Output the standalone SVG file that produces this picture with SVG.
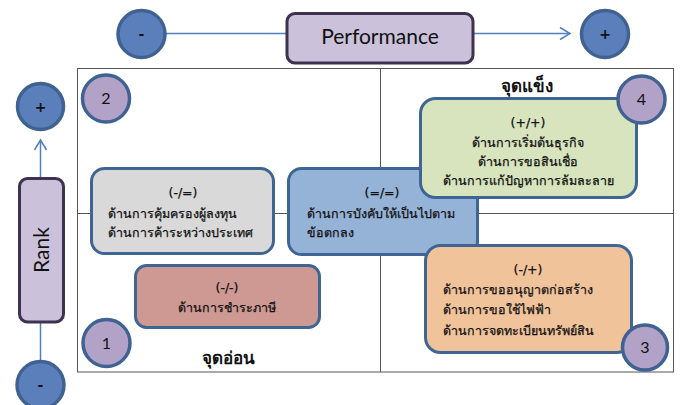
<svg xmlns="http://www.w3.org/2000/svg" width="680" height="405" viewBox="0 0 680 405">
<style>
.t{font-family:"Tahoma","DejaVu Sans","Liberation Sans",sans-serif;fill:#111;}
.lat{font-family:"Lato","Open Sans","Liberation Sans",sans-serif;fill:#111;}
.th{font-size:12.5px;stroke:#111;stroke-width:0.25px;}
.box{stroke:#3f6595;stroke-width:3;}
.axis{fill:#ccc1da;stroke:#3f3151;stroke-width:3;}
.bc{fill:#5a7fba;stroke:#3f6292;stroke-width:3.5;}
.pc{fill:#b3a2c7;stroke:#3f6292;stroke-width:3.5;}
.ln{stroke:#4f81bd;stroke-width:1.5;fill:none;}
.grid{stroke:#555;stroke-width:1;fill:none;}
</style>
<rect width="680" height="405" fill="#fff"/>
<g id="frame">
<rect class="grid" x="77.5" y="68.5" width="596" height="303.5"/>
<line class="grid" x1="380.5" y1="68.5" x2="380.5" y2="372"/>
<line class="grid" x1="77.5" y1="213.5" x2="673.5" y2="213.5"/>
</g>
<g id="connectors">
<line class="ln" x1="166" y1="33.5" x2="286" y2="33.5"/>
<line class="ln" x1="474" y1="33.5" x2="570" y2="33.5"/>
<polyline class="ln" points="560,27.5 570,33.5 560,39.5"/>
<line class="ln" x1="40.5" y1="178" x2="40.5" y2="140"/>
<polyline class="ln" points="34.5,150 40.5,140 46.5,150"/>
<line class="ln" x1="40.5" y1="322" x2="40.5" y2="361"/>
</g>
<g id="perf-minus"><circle class="bc" cx="141.5" cy="34" r="23.5"/><text class="t" x="141.5" y="39" font-size="14" font-weight="bold" text-anchor="middle">-</text></g>
<g id="performance"><rect class="axis" x="287" y="13.5" width="186" height="49.5" rx="8"/><text class="lat" x="380" y="44" font-size="21" text-anchor="middle">Performance</text></g>
<g id="perf-plus"><circle class="bc" cx="605" cy="34" r="23.5"/><text class="t" x="605" y="39" font-size="14" font-weight="bold" text-anchor="middle">+</text></g>
<g id="rank-plus"><circle class="bc" cx="40.5" cy="106.5" r="23"/><text class="t" x="40.5" y="111.5" font-size="14" font-weight="bold" text-anchor="middle">+</text></g>
<g id="rank"><rect class="axis" x="19.5" y="178.5" width="44" height="143.5" rx="8"/><text class="lat" transform="translate(48.5,250) rotate(-90)" font-size="21" text-anchor="middle">Rank</text></g>
<g id="rank-minus"><circle class="bc" cx="40.5" cy="385" r="23.5"/><text class="t" x="40.5" y="390" font-size="14" font-weight="bold" text-anchor="middle">-</text></g>
<g id="q2"><circle class="pc" cx="106" cy="98.5" r="23.5"/><text class="lat" x="106" y="104" font-size="16" text-anchor="middle">2</text></g>
<g id="q1"><circle class="pc" cx="106.5" cy="343" r="23.5"/><text class="lat" x="106.5" y="348.5" font-size="16" text-anchor="middle">1</text></g>
<g id="box-eq-eq"><rect class="box" x="288.5" y="168.5" width="189" height="86" rx="13" fill="#95b3d7"/>
<text class="t th" x="382" y="197" text-anchor="middle">(=/=)</text>
<text class="t th" x="307" y="218">ด้านการบังคับให้เป็นไปตาม</text>
<text class="t th" x="307" y="237">ข้อตกลง</text></g>
<g id="box-minus-eq"><rect class="box" x="91.5" y="168.5" width="182" height="85" rx="13" fill="#d9d9d9"/>
<text class="t th" x="183" y="197" text-anchor="middle">(-/=)</text>
<text class="t th" x="108" y="218">ด้านการคุ้มครองผู้ลงทุน</text>
<text class="t th" x="108" y="237">ด้านการค้าระหว่างประเทศ</text></g>
<g id="box-plus-plus"><rect class="box" x="420.5" y="98.5" width="216" height="99" rx="15" fill="#d7e4bd"/>
<text class="t th" x="528" y="127" text-anchor="middle">(+/+)</text>
<text class="t th" x="528" y="147" text-anchor="middle">ด้านการเริ่มต้นธุรกิจ</text>
<text class="t th" x="528" y="166" text-anchor="middle">ด้านการขอสินเชื่อ</text>
<text class="t th" x="528" y="185" text-anchor="middle">ด้านการแก้ปัญหาการล้มละลาย</text></g>
<g id="q4"><circle class="pc" cx="641.5" cy="99.5" r="23.5"/><text class="lat" x="641.5" y="105" font-size="16" text-anchor="middle">4</text></g>
<g id="box-minus-plus"><rect class="box" x="425.5" y="245.5" width="206" height="107" rx="15" fill="#f1c39b"/>
<text class="t th" x="528" y="274" text-anchor="middle">(-/+)</text>
<text class="t th" x="443" y="294">ด้านการขออนุญาตก่อสร้าง</text>
<text class="t th" x="443" y="314">ด้านการขอใช้ไฟฟ้า</text>
<text class="t th" x="443" y="335">ด้านการจดทะเบียนทรัพย์สิน</text></g>
<g id="q3"><circle class="pc" cx="645" cy="347.5" r="22.5"/><text class="lat" x="645" y="353" font-size="16" text-anchor="middle">3</text></g>
<g id="box-minus-minus"><rect class="box" x="135.5" y="265.5" width="184" height="62" rx="11" fill="#cf9993"/>
<text class="t th" x="227" y="292" text-anchor="middle">(-/-)</text>
<text class="t th" x="227" y="312" text-anchor="middle">ด้านการชำระภาษี</text></g>
<text class="t" x="527" y="92" font-size="17" font-weight="bold" text-anchor="middle">จุดแข็ง</text>
<text class="t" x="228" y="364" font-size="17" font-weight="bold" text-anchor="middle">จุดอ่อน</text>
</svg>
